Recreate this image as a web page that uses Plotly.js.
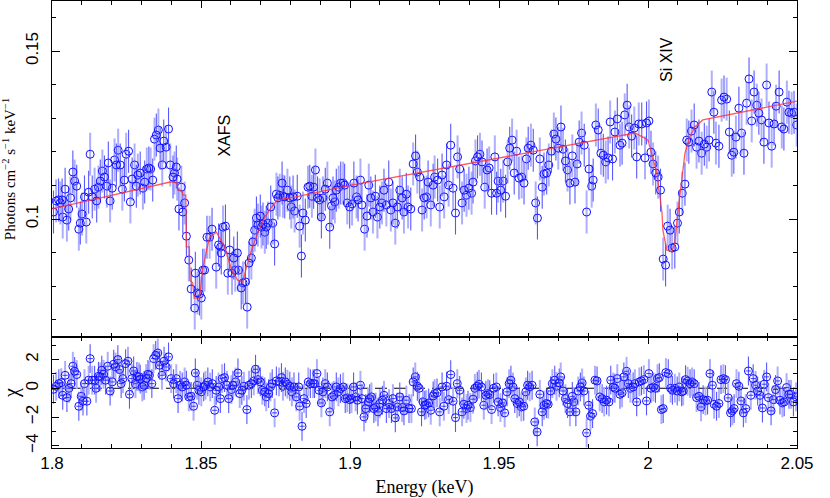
<!DOCTYPE html>
<html><head><meta charset="utf-8">
<script src="https://cdn.plot.ly/plotly-3.0.1.min.js"></script>
<style>html,body{margin:0;padding:0;background:#fff}#chart{width:830px;height:498px}</style>
</head><body><div id="chart"></div>
<script>
// Unfolded spectrum: energy (keV) and flux (photons cm^-2 s^-1 keV^-1)
const energy = [
1.8005,1.8014,1.8022,1.8028,1.8034,1.8036,1.8044,1.8050,1.8056,1.8062,
1.8070,1.8076,1.8083,1.8090,1.8095,1.8101,1.8109,1.8115,1.8123,1.8128,
1.8135,1.8143,1.8150,1.8156,1.8162,1.8169,1.8176,1.8184,1.8189,1.8195,
1.8202,1.8210,1.8216,1.8222,1.8229,1.8236,1.8243,1.8249,1.8257,1.8263,
1.8269,1.8277,1.8283,1.8288,1.8296,1.8305,1.8311,1.8318,1.8325,1.8331,
1.8338,1.8344,1.8350,1.8357,1.8363,1.8370,1.8375,1.8383,1.8391,1.8397,
1.8406,1.8411,1.8417,1.8420,1.8426,1.8434,1.8439,1.8445,1.8451,1.8459,
1.8467,1.8479,1.8481,1.8488,1.8495,1.8501,1.8506,1.8512,1.8520,1.8529,
1.8537,1.8551,1.8559,1.8566,1.8568,1.8574,1.8582,1.8590,1.8596,1.8604,
1.8610,1.8615,1.8622,1.8626,1.8635,1.8641,1.8649,1.8655,1.8661,1.8669,
1.8674,1.8680,1.8686,1.8691,1.8699,1.8703,1.8708,1.8714,1.8719,1.8725,
1.8734,1.8741,1.8747,1.8753,1.8758,1.8764,1.8772,1.8775,1.8781,1.8790,
1.8798,1.8803,1.8809,1.8814,1.8823,1.8831,1.8837,1.8842,1.8850,1.8859,
1.8865,1.8872,1.8878,1.8884,1.8891,1.8898,1.8904,1.8909,1.8917,1.8924,
1.8932,1.8938,1.8943,1.8949,1.8954,1.8962,1.8969,1.8977,1.8982,1.8991,
1.8999,1.9007,1.9013,1.9022,1.9027,1.9035,1.9040,1.9049,1.9057,1.9063,
1.9070,1.9077,1.9085,1.9092,1.9100,1.9107,1.9114,1.9122,1.9130,1.9137,
1.9144,1.9152,1.9159,1.9167,1.9175,1.9181,1.9189,1.9195,1.9204,1.9212,
1.9220,1.9226,1.9234,1.9242,1.9249,1.9257,1.9262,1.9271,1.9279,1.9284,
1.9294,1.9301,1.9309,1.9316,1.9324,1.9331,1.9338,1.9346,1.9354,1.9361,
1.9368,1.9376,1.9383,1.9391,1.9399,1.9408,1.9413,1.9421,1.9428,1.9436,
1.9443,1.9452,1.9460,1.9467,1.9475,1.9486,1.9492,1.9497,1.9506,1.9514,
1.9522,1.9529,1.9536,1.9544,1.9551,1.9559,1.9567,1.9576,1.9584,1.9592,
1.9598,1.9607,1.9615,1.9623,1.9629,1.9637,1.9645,1.9651,1.9660,1.9667,
1.9676,1.9684,1.9691,1.9699,1.9708,1.9715,1.9723,1.9730,1.9738,1.9746,
1.9755,1.9762,1.9769,1.9777,1.9786,1.9794,1.9802,1.9811,1.9816,1.9825,
1.9833,1.9842,1.9850,1.9858,1.9866,1.9873,1.9881,1.9889,1.9897,1.9906,
1.9913,1.9922,1.9930,1.9937,1.9945,1.9954,1.9962,1.9969,1.9979,1.9990,
1.9995,2.0003,2.0010,2.0017,2.0026,2.0034,2.0042,2.0051,2.0059,2.0066,
2.0074,2.0081,2.0090,2.0099,2.0105,2.0115,2.0124,2.0130,2.0137,2.0146,
2.0155,2.0163,2.0171,2.0180,2.0189,2.0197,2.0205,2.0214,2.0221,2.0228,
2.0238,2.0247,2.0255,2.0264,2.0273,2.0281,2.0288,2.0295,2.0305,2.0314,
2.0322,2.0331,2.0339,2.0348,2.0356,2.0365,2.0372,2.0381,2.0389,2.0398,
2.0406,2.0415,2.0423,2.0430,2.0440,2.0449,2.0456,2.0466,2.0473,2.0482,
2.0490,2.0499];
const flux = [
0.1021,0.1054,0.1057,0.1048,0.1057,0.1006,0.1089,0.0997,0.1030,0.1063,
0.1140,0.1113,0.1098,0.0970,0.0988,0.1015,0.1066,0.0991,0.1080,0.1193,
0.1066,0.1089,0.1054,0.1095,0.1113,0.1143,0.1125,0.1098,0.1167,0.1054,
0.1092,0.1176,0.1161,0.1205,0.1161,0.1089,0.1116,0.1193,0.1202,0.1051,
0.1119,0.1161,0.1098,0.1131,0.1137,0.1092,0.1110,0.1149,0.1152,0.1149,
0.1116,0.1238,0.1250,0.1265,0.1211,0.1161,0.1232,0.1214,0.1268,0.1161,
0.1125,0.1137,0.1155,0.1119,0.1030,0.1095,0.1021,0.1048,0.0949,0.0878,
0.0792,0.0735,0.0839,0.0780,0.0777,0.0765,0.0848,0.0848,0.0946,0.0946,
0.0970,0.0857,0.0923,0.0917,0.0899,0.0976,0.0979,0.0839,0.0908,0.0839,
0.0884,0.0848,0.0899,0.0848,0.0795,0.0810,0.0813,0.0738,0.0869,0.0884,
0.0932,0.0967,0.1003,0.0982,0.1009,0.0976,0.0985,0.0961,0.0976,0.0988,
0.1036,0.0988,0.0926,0.1074,0.1063,0.1071,0.1107,0.1068,0.1066,0.1086,
0.1063,0.1036,0.1066,0.1024,0.1068,0.0979,0.0890,0.1018,0.0997,0.1095,
0.1098,0.1068,0.1095,0.1146,0.1063,0.1057,0.1006,0.1063,0.1089,0.1107,
0.0976,0.1039,0.1063,0.1051,0.1086,0.1095,0.1107,0.1107,0.1101,0.1048,
0.1036,0.1045,0.1107,0.1066,0.1057,0.1116,0.1042,0.0970,0.1009,0.1101,
0.1063,0.1021,0.1068,0.1006,0.1036,0.1048,0.1086,0.1042,0.1110,0.1027,
0.1048,0.0988,0.1036,0.1086,0.1063,0.1021,0.1074,0.1036,0.1030,0.1164,
0.1188,0.1140,0.1125,0.1027,0.1063,0.1066,0.1110,0.1042,0.1101,0.1125,
0.1116,0.1036,0.1131,0.1066,0.1161,0.1101,0.1220,0.1092,0.1018,0.1185,
0.1149,0.1048,0.1086,0.1071,0.1092,0.1077,0.1110,0.1173,0.1185,0.1193,
0.1170,0.1095,0.1146,0.1152,0.1077,0.1185,0.1077,0.1113,0.1086,0.1113,
0.1068,0.1170,0.1211,0.1235,0.1137,0.1202,0.1122,0.1125,0.1107,0.1179,
0.1211,0.1220,0.1205,0.1048,0.1003,0.1179,0.1095,0.1134,0.1137,0.1161,
0.1202,0.1253,0.1238,0.1211,0.1274,0.1208,0.1173,0.1146,0.1107,0.1188,
0.1110,0.1164,0.1229,0.1256,0.1220,0.1021,0.1149,0.1098,0.1116,0.1280,
0.1265,0.1196,0.1190,0.1170,0.1182,0.1289,0.1179,0.1259,0.1298,0.1220,
0.1226,0.1310,0.1339,0.1274,0.1247,0.1271,0.1185,0.1283,0.1283,0.1182,
0.1286,0.1292,0.1199,0.1164,0.1137,0.1125,0.1086,0.0881,0.0863,0.0979,
0.0967,0.0914,0.0917,0.0988,0.1021,0.1077,0.1104,0.1235,0.1229,0.1262,
0.1280,0.1214,0.1232,0.1196,0.1223,0.1214,0.1235,0.1378,0.1318,0.1226,
0.1217,0.1354,0.1363,0.1357,0.1259,0.1190,0.1199,0.1244,0.1330,0.1256,
0.1196,0.1345,0.1417,0.1292,0.1378,0.1339,0.1315,0.1295,0.1229,0.1399,
0.1286,0.1217,0.1283,0.1336,0.1378,0.1274,0.1268,0.1348,0.1318,0.1315,
0.1318,0.1280];
const fluxError = 0.0064;

// Best-fit model curve
const modelEnergy = [1.8000,1.8400,1.8420,1.8422,1.8434,1.8440,1.8449,1.8451,1.8461,1.8463,
1.8472,1.8477,1.8495,1.8505,1.8519,1.8529,1.8552,1.8579,1.8603,1.8623,
1.8640,1.8656,1.8673,1.8690,1.8714,1.8737,1.8757,1.8814,1.9000,1.9503,
1.9956,1.9983,2.0000,2.0030,2.0040,2.0047,2.0050,2.0063,2.0080,2.0090,
2.0100,2.0114,2.0124,2.0140,2.0157,2.0184,2.0500];
const modelFlux = [0.1030,0.1111,0.1107,0.1086,0.1086,0.1071,0.1071,0.0917,0.0917,0.0818,
0.0810,0.0765,0.0765,0.0848,0.0908,0.0946,0.0961,0.0917,0.0848,0.0818,
0.0812,0.0869,0.0917,0.0958,0.1006,0.1036,0.1057,0.1065,0.1100,0.1182,
0.1256,0.1244,0.1235,0.1137,0.1065,0.1018,0.0967,0.0908,0.0902,0.0929,
0.1018,0.1125,0.1196,0.1244,0.1274,0.1295,0.1351];

// Residuals (chi)
const residEnergy = [
1.8005,1.8014,1.8023,1.8031,1.8036,1.8044,1.8050,1.8057,1.8064,1.8070,
1.8076,1.8083,1.8090,1.8098,1.8104,1.8109,1.8117,1.8123,1.8128,1.8135,
1.8143,1.8148,1.8156,1.8162,1.8167,1.8173,1.8180,1.8187,1.8195,1.8202,
1.8207,1.8213,1.8221,1.8227,1.8232,1.8238,1.8247,1.8255,1.8260,1.8268,
1.8274,1.8280,1.8285,1.8292,1.8296,1.8303,1.8309,1.8316,1.8322,1.8327,
1.8335,1.8341,1.8348,1.8355,1.8361,1.8369,1.8376,1.8383,1.8391,1.8400,
1.8408,1.8417,1.8423,1.8430,1.8437,1.8445,1.8451,1.8459,1.8467,1.8475,
1.8481,1.8487,1.8493,1.8501,1.8509,1.8515,1.8523,1.8531,1.8538,1.8546,
1.8551,1.8559,1.8565,1.8571,1.8579,1.8587,1.8593,1.8602,1.8607,1.8616,
1.8624,1.8630,1.8637,1.8644,1.8654,1.8661,1.8669,1.8677,1.8683,1.8691,
1.8699,1.8706,1.8714,1.8719,1.8727,1.8733,1.8739,1.8747,1.8753,1.8762,
1.8770,1.8775,1.8783,1.8790,1.8798,1.8805,1.8812,1.8820,1.8828,1.8831,
1.8839,1.8846,1.8853,1.8860,1.8867,1.8876,1.8881,1.8889,1.8896,1.8904,
1.8909,1.8917,1.8924,1.8932,1.8940,1.8946,1.8954,1.8961,1.8968,1.8977,
1.8984,1.8991,1.8999,1.9005,1.9012,1.9019,1.9025,1.9035,1.9040,1.9047,
1.9053,1.9061,1.9066,1.9072,1.9080,1.9086,1.9094,1.9100,1.9109,1.9114,
1.9122,1.9131,1.9139,1.9144,1.9152,1.9159,1.9167,1.9175,1.9181,1.9189,
1.9198,1.9206,1.9212,1.9219,1.9226,1.9232,1.9240,1.9245,1.9251,1.9256,
1.9264,1.9271,1.9279,1.9284,1.9292,1.9301,1.9309,1.9315,1.9324,1.9331,
1.9338,1.9346,1.9354,1.9360,1.9368,1.9376,1.9382,1.9391,1.9396,1.9404,
1.9413,1.9419,1.9427,1.9433,1.9441,1.9449,1.9456,1.9463,1.9469,1.9475,
1.9482,1.9491,1.9497,1.9505,1.9512,1.9519,1.9527,1.9534,1.9540,1.9547,
1.9553,1.9561,1.9568,1.9575,1.9583,1.9590,1.9596,1.9603,1.9611,1.9620,
1.9628,1.9637,1.9645,1.9651,1.9659,1.9665,1.9673,1.9679,1.9687,1.9693,
1.9702,1.9707,1.9715,1.9723,1.9730,1.9738,1.9746,1.9751,1.9758,1.9766,
1.9773,1.9779,1.9785,1.9794,1.9801,1.9807,1.9814,1.9822,1.9829,1.9838,
1.9846,1.9853,1.9861,1.9869,1.9875,1.9883,1.9889,1.9897,1.9906,1.9913,
1.9919,1.9928,1.9934,1.9941,1.9950,1.9956,1.9962,1.9971,1.9978,1.9986,
1.9995,2.0003,2.0010,2.0018,2.0025,2.0032,2.0038,2.0045,2.0051,2.0060,
2.0068,2.0076,2.0082,2.0090,2.0098,2.0105,2.0113,2.0118,2.0126,2.0133,
2.0141,2.0148,2.0155,2.0163,2.0171,2.0178,2.0185,2.0193,2.0200,2.0208,
2.0216,2.0222,2.0230,2.0238,2.0245,2.0253,2.0260,2.0269,2.0277,2.0283,
2.0289,2.0297,2.0305,2.0312,2.0320,2.0328,2.0337,2.0345,2.0353,2.0361,
2.0368,2.0376,2.0384,2.0390,2.0398,2.0404,2.0413,2.0421,2.0428,2.0435,
2.0443,2.0451,2.0457,2.0465,2.0473,2.0480,2.0488,2.0497];
const chi = [
-0.07,0.14,0.32,0.39,-0.49,0.90,-0.65,0.00,0.32,1.53,
1.18,0.95,-1.25,-0.56,-0.90,0.32,-0.90,0.56,2.06,0.56,
0.56,0.00,0.83,0.79,1.25,0.97,0.56,1.53,-0.19,0.44,
1.67,1.48,1.99,1.30,0.32,0.67,1.71,1.88,-0.42,0.67,
1.20,0.32,0.83,0.79,0.63,0.09,0.21,0.67,0.97,0.90,
0.32,2.06,2.29,2.45,1.60,0.90,1.88,1.48,2.18,0.67,
0.32,0.67,-0.72,0.21,0.09,0.44,0.21,-0.60,-0.56,-1.25,
1.06,0.21,-0.14,-0.25,0.09,0.21,0.44,0.09,0.32,-1.53,
-0.14,0.09,-0.72,0.67,0.74,0.21,-0.72,-0.09,0.21,0.44,
1.06,-0.37,-0.14,0.14,-1.48,0.21,0.32,0.51,1.32,0.60,
0.44,-0.14,-0.25,-0.60,-0.37,0.09,0.32,-1.71,0.51,0.44,
0.74,0.14,0.44,0.28,0.14,-0.25,0.09,-0.60,0.09,-1.25,
-2.64,-0.72,-1.06,0.44,0.32,0.32,0.32,1.02,-0.14,-1.02,
-0.25,0.32,0.09,-1.64,-0.60,-0.49,0.09,-0.25,-0.02,0.09,
-0.72,-0.67,-0.79,-0.72,0.09,-0.60,-0.83,0.21,-0.72,-1.99,
-1.41,-0.95,-0.72,-0.60,-1.41,-1.30,-1.64,-1.06,-0.83,-0.49,
-1.41,-1.06,-1.41,-0.72,-2.06,-1.30,-0.60,-1.34,-1.57,-0.83,
-1.41,-1.41,0.44,0.79,0.14,0.00,-1.64,-0.95,-1.18,-1.13,
-1.02,-1.53,-0.53,-0.37,-0.32,-1.64,0.09,-1.25,0.14,-0.79,
0.95,-0.90,-2.04,0.32,-0.14,-1.64,-1.11,-1.41,-1.18,-1.34,
-0.76,0.00,0.14,0.28,0.09,-1.18,-0.49,-0.37,-0.44,-1.48,
0.00,0.09,-0.95,-1.34,-1.02,-1.71,-0.25,0.32,0.56,0.09,
-0.72,-1.06,-0.95,-1.30,-1.25,-0.25,0.21,0.09,0.21,-2.34,
-3.03,-0.42,-1.64,-1.18,-1.06,-1.11,-0.19,0.32,0.56,0.14,
0.37,0.79,-0.19,-0.72,-1.06,-1.64,-0.56,-0.95,-1.64,-0.19,
0.09,0.37,-0.19,-3.10,-1.18,-1.94,-1.76,0.56,0.51,-0.60,
-0.72,-0.95,-0.83,-0.95,0.56,0.09,0.00,0.67,-0.42,-0.32,
0.79,1.18,0.32,0.00,0.09,0.32,-0.95,0.44,0.51,0.60,
-0.88,1.02,0.00,0.09,0.00,0.67,0.74,-1.48,-1.41,1.09,
1.02,0.00,-0.14,0.00,-0.19,0.09,-0.25,-0.19,0.60,0.49,
0.32,0.44,0.32,-0.65,-0.56,-1.30,-0.79,-0.88,-0.83,1.02,
0.21,-1.11,-1.25,-1.06,0.60,0.67,0.60,-0.67,-1.71,-1.57,
-1.41,0.32,0.14,-0.88,-1.71,-1.41,1.20,-0.49,0.67,0.21,
-0.19,-0.49,-1.37,0.28,0.79,-0.65,-1.57,-0.79,-0.09,0.51,
-0.83,-1.02,-0.95,0.05,-0.42,-0.42,-0.95,-0.60];
const chiError = 1;
const binHalfWidth = 0.0009;

const xTitle = 'Energy (keV)';
const yTitleTop = 'Photons cm<sup>\u22122</sup> s<sup>\u22121</sup> keV<sup>\u22121</sup>';
const yTitleBottom = '\u03c7';

// split alternate bins into two groups (two error-bar shades)
const pick = (arr, p) => arr.filter((_, i) => i % 2 === p);
const DARK = '#5858ff', LIGHT = '#aeaeff', MARK = '#1010ff';

function dataTrace(xs, ys, err, p, xa, ya, xerr) {
  const t = {
    type: 'scatter', mode: 'markers', xaxis: xa, yaxis: ya,
    x: pick(xs, p), y: pick(ys, p),
    error_y: {type: 'constant', value: err, color: p ? LIGHT : DARK, thickness: p ? 2 : 1.1, width: 0},
    marker: {symbol: 'circle-open', size: 8, color: MARK, line: {width: 1, color: MARK}},
    hoverinfo: 'x+y'
  };
  if (xerr) t.error_x = {type: 'constant', value: xerr, color: MARK, thickness: 0.8, width: 0};
  return t;
}

const traces = [
  dataTrace(energy, flux, fluxError, 1, 'x', 'y'),
  dataTrace(energy, flux, fluxError, 0, 'x', 'y'),
  {type: 'scatter', mode: 'lines', x: modelEnergy, y: modelFlux, xaxis: 'x', yaxis: 'y',
   line: {color: 'rgba(255,50,50,0.8)', width: 1.3}},
  dataTrace(residEnergy, chi, chiError, 1, 'x2', 'y2', binHalfWidth),
  dataTrace(residEnergy, chi, chiError, 0, 'x2', 'y2', binHalfWidth)
];

const tickFont = {family: 'Liberation Sans, Arial, sans-serif', size: 17, color: '#000'};
const serif = 'Liberation Serif, Times New Roman, serif';
const axBase = {
  showline: true, linecolor: '#000', linewidth: 1, mirror: 'allticks',
  ticks: 'inside', tickcolor: '#000', tickwidth: 1, showgrid: false, zeroline: false,
  tickfont: tickFont
};
const xBase = Object.assign({}, axBase, {range: [1.8, 2.05], tick0: 1.8, dtick: 0.05, ticklen: 7,
  minor: {dtick: 0.01, ticks: 'inside', ticklen: 4, tickcolor: '#000', showgrid: false}});

const layout = {
  width: 830, height: 498,
  margin: {l: 52, r: 33, t: 1, b: 50},
  paper_bgcolor: '#fff', plot_bgcolor: '#fff', showlegend: false,
  font: tickFont,
  xaxis: Object.assign({}, xBase, {anchor: 'y', showticklabels: false}),
  xaxis2: Object.assign({}, xBase, {anchor: 'y2', ticklabelstandoff: 0,
    title: {text: xTitle, font: {family: serif, size: 18, color: '#000'}, standoff: 10}}),
  yaxis: Object.assign({}, axBase, {domain: [0.2483, 1], anchor: 'x', range: [0.0649, 0.1649],
    tick0: 0, dtick: 0.05, ticklen: 8, tickangle: -90, ticklabelstandoff: 6,
    minor: {dtick: 0.01, ticks: 'inside', ticklen: 4, tickcolor: '#000', showgrid: false},
    title: {text: yTitleTop, font: {family: serif, size: 15, color: '#000'}, standoff: 4}}),
  yaxis2: Object.assign({}, axBase, {domain: [0, 0.2483], anchor: 'x2', range: [-4.15, 3.56],
    tick0: 0, dtick: 2, ticklen: 7, tickangle: -90, ticklabelstandoff: 6,
    minor: {dtick: 1, ticks: 'inside', ticklen: 4, tickcolor: '#000', showgrid: false},
    title: {text: yTitleBottom, font: {family: serif, size: 20, color: '#000'}, standoff: 4}}),
  shapes: [{type: 'line', xref: 'x2 domain', yref: 'y2', x0: 0, x1: 1, y0: 0, y1: 0,
    line: {color: '#000', width: 1, dash: '12px,7px'}, layer: 'below'}],
  annotations: [
    {x: 1.8579, y: 0.1247, xref: 'x', yref: 'y', text: 'XAFS', showarrow: false, textangle: -90,
     font: {family: 'Liberation Sans, Arial, sans-serif', size: 16, color: '#000'}},
    {x: 2.0060, y: 0.1476, xref: 'x', yref: 'y', text: 'Si XIV', showarrow: false, textangle: -90,
     font: {family: 'Liberation Sans, Arial, sans-serif', size: 16, color: '#000'}}
  ]
};

Plotly.newPlot('chart', traces, layout, {staticPlot: true, displayModeBar: false});
</script>
</body></html>
